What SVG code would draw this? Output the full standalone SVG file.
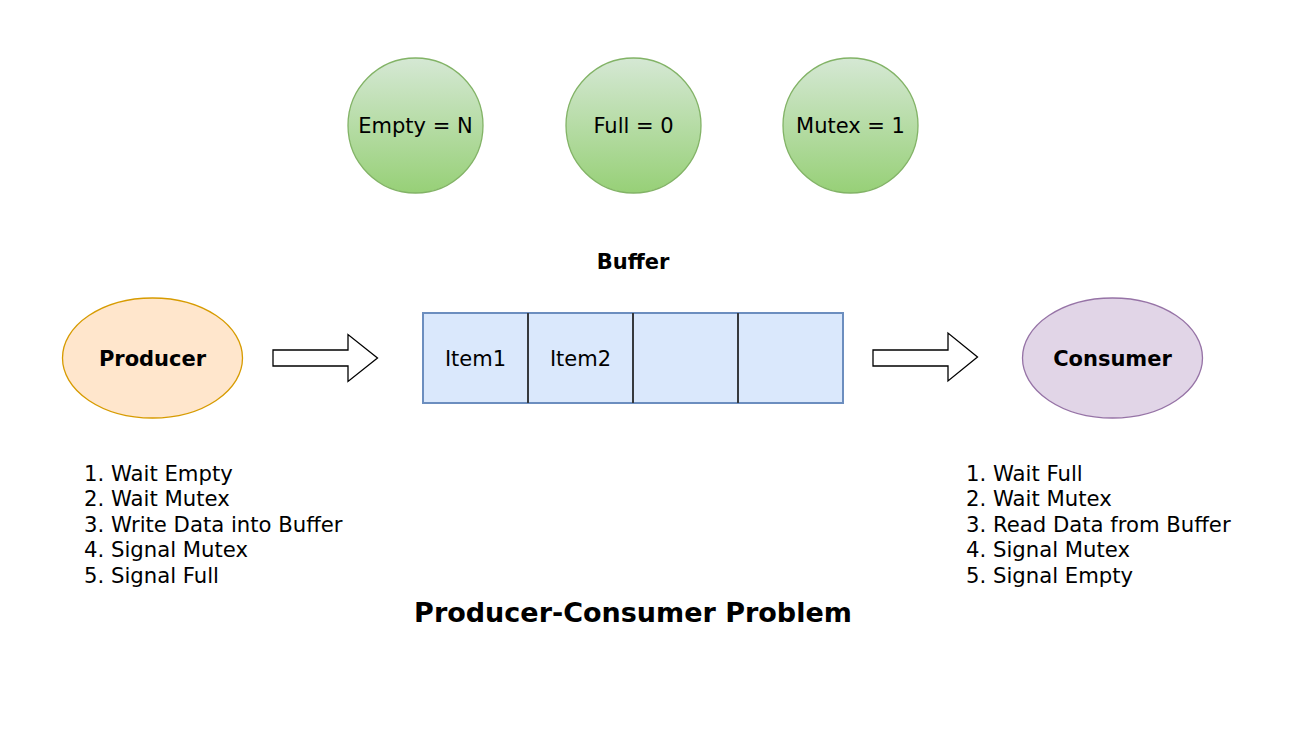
<svg xmlns="http://www.w3.org/2000/svg" width="1314" height="730" viewBox="0 0 1314 730">
<style>
text { font-family: "DejaVu Sans", Verdana, sans-serif; fill: #000; }
.t { font-size: 21px; }
.l { font-size: 21.2px; }
.c { text-anchor: middle; }
.b { font-weight: bold; }
.sem { fill: url(#g); stroke: #82b366; stroke-width: 1.3; }
.cell { fill: #dae8fc; stroke: #6c8ebf; stroke-width: 2; }
.div { stroke: #36393d; stroke-width: 2; }
.arr { fill: #fff; stroke: #000; stroke-width: 1.3; }
</style>
<defs>
<linearGradient id="g" x1="0" y1="0" x2="0" y2="1">
<stop offset="0" stop-color="#d5e8d4"/>
<stop offset="1" stop-color="#97d077"/>
</linearGradient>
</defs>
<rect width="1314" height="730" fill="#fff"/>
<g id="empty"><circle class="sem" cx="415.5" cy="125.5" r="67.5"/><text class="t c" x="415.5" y="133">Empty = N</text></g>
<g id="full"><circle class="sem" cx="633.5" cy="125.5" r="67.5"/><text class="t c" x="633.5" y="133">Full = 0</text></g>
<g id="mutex"><circle class="sem" cx="850.5" cy="125.5" r="67.5"/><text class="t c" x="850.5" y="133">Mutex = 1</text></g>
<g id="buffer-label"><text class="t c b" x="633" y="268.5">Buffer</text></g>
<g id="buffer">
<rect class="cell" x="423" y="313" width="420" height="90"/>
<line class="div" x1="528" y1="313" x2="528" y2="403"/>
<line class="div" x1="633" y1="313" x2="633" y2="403"/>
<line class="div" x1="738" y1="313" x2="738" y2="403"/>
<text class="t c" x="475.5" y="366">Item1</text>
<text class="t c" x="580.5" y="366">Item2</text>
</g>
<g id="producer"><ellipse cx="152.5" cy="358" rx="90" ry="60" fill="#ffe6cc" stroke="#d79b00" stroke-width="1.3"/><text class="t c b" x="152.5" y="366">Producer</text></g>
<g id="consumer"><ellipse cx="1112.5" cy="358" rx="90" ry="60" fill="#e1d5e7" stroke="#9673a6" stroke-width="1.3"/><text class="t c b" x="1112.5" y="366">Consumer</text></g>
<g id="connectors">
<path class="arr" d="M273 350 H348 V334.5 L377.5 358 L348 381.5 V366 H273 Z"/>
<path class="arr" d="M873 350 H948 V333 L977.5 357 L948 381 V366 H873 Z"/>
</g>
<g id="producer-steps">
<text class="l" x="84" y="481">1. Wait Empty</text>
<text class="l" x="84" y="506.4">2. Wait Mutex</text>
<text class="l" x="84" y="531.8">3. Write Data into Buffer</text>
<text class="l" x="84" y="557.2">4. Signal Mutex</text>
<text class="l" x="84" y="582.6">5. Signal Full</text>
</g>
<g id="consumer-steps">
<text class="l" x="966" y="481">1. Wait Full</text>
<text class="l" x="966" y="506.4">2. Wait Mutex</text>
<text class="l" x="966" y="531.8">3. Read Data from Buffer</text>
<text class="l" x="966" y="557.2">4. Signal Mutex</text>
<text class="l" x="966" y="582.6">5. Signal Empty</text>
</g>
<g id="title"><text class="c b" x="633" y="622" style="font-size:27px">Producer-Consumer Problem</text></g>
</svg>
